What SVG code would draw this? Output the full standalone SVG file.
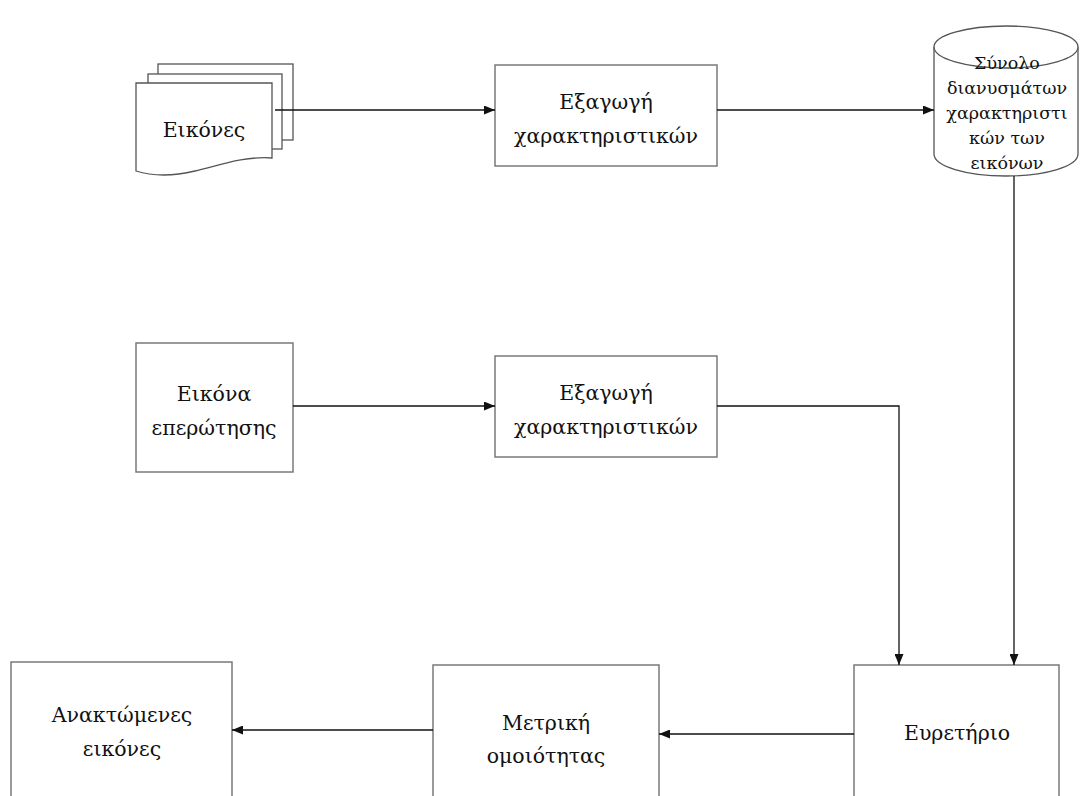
<svg xmlns="http://www.w3.org/2000/svg" width="1083" height="796" viewBox="0 0 1083 796">
<style>
.box{fill:#fff;stroke:#7a7a7a;stroke-width:1.5}
.shape{fill:#fff;stroke:#555;stroke-width:1.3}
.t{font-family:"DejaVu Serif","Liberation Serif",serif;font-size:20.5px;fill:#111;text-anchor:middle}
.ts{font-family:"DejaVu Serif","Liberation Serif",serif;font-size:17.5px;fill:#111;text-anchor:middle}
.c{fill:none;stroke:#111;stroke-width:1.3}
</style>
<defs>
<marker id="ah" markerWidth="11" markerHeight="9" refX="11" refY="4.5" orient="auto" markerUnits="userSpaceOnUse">
<path d="M0,0 L11,4.5 L0,9 Z" fill="#111"/>
</marker>
</defs>
<rect width="1083" height="796" fill="#fff"/>
<g id="images">
<rect class="shape" x="158" y="64" width="135" height="76"/>
<rect class="shape" x="148" y="74" width="134" height="75"/>
<path class="shape" d="M136,83 H272 V158 C245,156 220,165 195,171 C170,177 152,176 136,171 Z"/>
<text class="t" x="204" y="137">Εικόνες</text>
</g>
<g id="extract1">
<rect class="box" x="495" y="65" width="222" height="101"/>
<text class="t" x="606" y="109">Εξαγωγή</text>
<text class="t" x="606" y="143">χαρακτηριστικών</text>
</g>
<g id="featureset">
<path class="shape" d="M934,47 V154 A72,22 0 0 0 1078,154 V47"/>
<ellipse class="shape" cx="1006" cy="47" rx="72" ry="21"/>
<text class="ts" x="1007" y="69">Σύνολο</text>
<text class="ts" x="1007" y="94">διανυσμάτων</text>
<text class="ts" x="1007" y="119">χαρακτηριστι</text>
<text class="ts" x="1007" y="144">κών των</text>
<text class="ts" x="1007" y="169">εικόνων</text>
</g>
<g id="query">
<rect class="box" x="136" y="343" width="157" height="129"/>
<text class="t" x="214" y="401">Εικόνα</text>
<text class="t" x="214" y="435">επερώτησης</text>
</g>
<g id="extract2">
<rect class="box" x="495" y="356" width="222" height="101"/>
<text class="t" x="606" y="400">Εξαγωγή</text>
<text class="t" x="606" y="434">χαρακτηριστικών</text>
</g>
<g id="index">
<rect class="box" x="854" y="665" width="205" height="140"/>
<text class="t" x="957" y="740">Ευρετήριο</text>
</g>
<g id="metric">
<rect class="box" x="433" y="665" width="226" height="140"/>
<text class="t" x="546" y="730">Μετρική</text>
<text class="t" x="546" y="763">ομοιότητας</text>
</g>
<g id="retrieved">
<rect class="box" x="11" y="662" width="221" height="143"/>
<text class="t" x="122" y="722">Ανακτώμενες</text>
<text class="t" x="122" y="756">εικόνες</text>
</g>
<g id="connectors">
<path class="c" d="M275,110 H495" marker-end="url(#ah)"/>
<path class="c" d="M717,110 H934" marker-end="url(#ah)"/>
<path class="c" d="M1014,176 V665" marker-end="url(#ah)"/>
<path class="c" d="M293,406 H495" marker-end="url(#ah)"/>
<path class="c" d="M717,406 H899 V665" marker-end="url(#ah)"/>
<path class="c" d="M854,734 H659" marker-end="url(#ah)"/>
<path class="c" d="M433,730 H232" marker-end="url(#ah)"/>
</g>
</svg>
